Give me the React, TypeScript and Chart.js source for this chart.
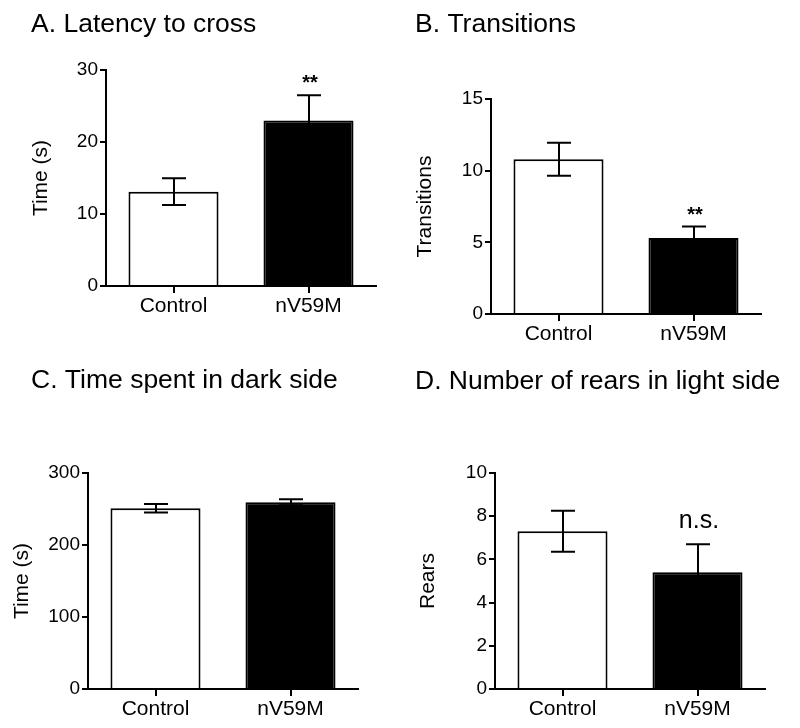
import React, { useEffect, useRef } from "react";
import { Chart, registerables } from "chart.js";

Chart.register(...registerables);

const FONT = "'Liberation Sans', Arial, Helvetica, sans-serif";

// ---- data ----
const groups = ["Control", "nV59M"];

const latencyMean = [13.1, 23.0];
const latencySem = [1.85, 3.5];
const latencySig = ["", "**"];
const latencyTicks = [0, 10, 20, 30];

const transitionsMean = [10.8, 5.3];
const transitionsSem = [1.15, 0.8];
const transitionsSig = ["", "**"];
const transitionsTicks = [0, 5, 10, 15];

const darkMean = [251, 259.5];
const darkSem = [6, 4.2];
const darkSig = ["", ""];
const darkTicks = [0, 100, 200, 300];

const rearsMean = [7.3, 5.4];
const rearsSem = [0.95, 1.3];
const rearsSig = ["", "n.s."];
const rearsTicks = [0, 2, 4, 6, 8, 10];

const barFills = ["#ffffff", "#000000"];

// ---- layout / style ----
const CW = 400;
const CH = 364;
const XH = 36;

type PanelCfg = {
  title: string;
  yLabel: string;
  mean: number[];
  sem: number[];
  sig: string[];
  ticks: number[];
  left: number;
  top: number;
  titleX: number;
  titleY: number;
  area: { l: number; r: number; t: number; b: number };
  yTitleX: number;
  sigFont: string;
  sigGap: number;
};

const panels: PanelCfg[] = [
  {
    title: "A. Latency to cross",
    yLabel: "Time (s)",
    mean: latencyMean,
    sem: latencySem,
    sig: latencySig,
    ticks: latencyTicks,
    left: 0,
    top: 0,
    titleX: 31,
    titleY: 32,
    area: { l: 106, r: 376, t: 70, b: 286 },
    yTitleX: 41,
    sigFont: `bold 20px ${FONT}`,
    sigGap: 6,
  },
  {
    title: "B. Transitions",
    yLabel: "Transitions",
    mean: transitionsMean,
    sem: transitionsSem,
    sig: transitionsSig,
    ticks: transitionsTicks,
    left: 400,
    top: 0,
    titleX: 15,
    titleY: 32,
    area: { l: 91, r: 361, t: 99, b: 314 },
    yTitleX: 25,
    sigFont: `bold 20px ${FONT}`,
    sigGap: 6,
  },
  {
    title: "C. Time spent in dark side",
    yLabel: "Time (s)",
    mean: darkMean,
    sem: darkSem,
    sig: darkSig,
    ticks: darkTicks,
    left: 0,
    top: 364,
    titleX: 31,
    titleY: 24,
    area: { l: 88, r: 358, t: 109, b: 325 },
    yTitleX: 22,
    sigFont: `bold 20px ${FONT}`,
    sigGap: 6,
  },
  {
    title: "D. Number of rears in light side",
    yLabel: "Rears",
    mean: rearsMean,
    sem: rearsSem,
    sig: rearsSig,
    ticks: rearsTicks,
    left: 400,
    top: 364,
    titleX: 15,
    titleY: 25,
    area: { l: 95, r: 365, t: 109, b: 325 },
    yTitleX: 28,
    sigFont: `25px ${FONT}`,
    sigGap: 16,
  },
];

function Panel({ cfg }: { cfg: PanelCfg }) {
  const ref = useRef<HTMLCanvasElement>(null);

  useEffect(() => {
    const canvas = ref.current;
    if (!canvas) return;

    const decorations = {
      id: "decorations",
      afterDatasetsDraw(chart: any) {
        const ctx = chart.ctx;
        const yScale = chart.scales.y;
        const meta = chart.getDatasetMeta(0);
        ctx.save();
        ctx.strokeStyle = "#000";
        ctx.lineWidth = 2;
        ctx.lineCap = "butt";
        meta.data.forEach((el: any, i: number) => {
          const m = cfg.mean[i];
          const e = cfg.sem[i];
          const x = Math.round(el.x);
          const yTop = yScale.getPixelForValue(m + e);
          const yBot = yScale.getPixelForValue(m - e);
          const cap = 12;
          ctx.beginPath();
          ctx.moveTo(x, yBot);
          ctx.lineTo(x, yTop);
          ctx.moveTo(x - cap, yTop);
          ctx.lineTo(x + cap, yTop);
          ctx.moveTo(x - cap, yBot);
          ctx.lineTo(x + cap, yBot);
          ctx.stroke();
          const s = cfg.sig[i];
          if (s) {
            ctx.fillStyle = "#000";
            ctx.font = cfg.sigFont;
            ctx.textAlign = "center";
            ctx.textBaseline = "alphabetic";
            ctx.fillText(s, x + 1, yTop - cfg.sigGap);
          }
        });
        ctx.restore();
      },
      afterDraw(chart: any) {
        const ctx = chart.ctx;
        ctx.save();
        ctx.fillStyle = "#000";
        ctx.font = `26.5px ${FONT}`;
        ctx.textAlign = "left";
        ctx.textBaseline = "alphabetic";
        ctx.fillText(cfg.title, cfg.titleX, cfg.titleY);
        ctx.restore();
      },
    };

    const padLeft = cfg.yTitleX - 12;
    const chart = new Chart(canvas, {
      type: "bar",
      data: {
        labels: groups,
        datasets: [
          {
            data: cfg.mean,
            backgroundColor: barFills,
            borderColor: "#000",
            borderWidth: 2,
            borderSkipped: "start",
            barPercentage: 0.667,
            categoryPercentage: 1.0,
          } as any,
        ],
      },
      options: {
        animation: false,
        responsive: false,
        devicePixelRatio: 1,
        events: [],
        layout: {
          padding: {
            left: padLeft,
            right: CW - cfg.area.r,
            top: cfg.area.t,
            bottom: CH - cfg.area.b - XH,
          },
        },
        plugins: {
          legend: { display: false },
          tooltip: { enabled: false },
          title: { display: false },
        },
        scales: {
          x: {
            type: "category",
            offset: true,
            grid: {
              offset: false,
              drawOnChartArea: false,
              drawTicks: true,
              tickLength: 7,
              color: "#000",
              lineWidth: 2,
            },
            border: { display: true, color: "#000", width: 2 },
            ticks: {
              color: "#000",
              font: { family: FONT, size: 21 },
              padding: 1,
              maxRotation: 0,
            },
            afterFit: (s: any) => {
              s.height = XH;
            },
          },
          y: {
            min: cfg.ticks[0],
            max: cfg.ticks[cfg.ticks.length - 1],
            grid: {
              drawOnChartArea: false,
              drawTicks: true,
              tickLength: 6,
              color: "#000",
              lineWidth: 2,
            },
            border: { display: true, color: "#000", width: 2 },
            ticks: {
              color: "#000",
              font: { family: FONT, size: 19 },
              padding: 2,
            },
            afterBuildTicks: (s: any) => {
              s.ticks = cfg.ticks.map((v) => ({ value: v }));
            },
            title: {
              display: true,
              text: cfg.yLabel,
              color: "#000",
              font: { family: FONT, size: 21 },
              padding: 0,
            },
            afterFit: (s: any) => {
              s.width = cfg.area.l - padLeft;
            },
          },
        },
      } as any,
      plugins: [decorations],
    });

    return () => {
      chart.destroy();
    };
  }, [cfg]);

  return (
    <canvas
      ref={ref}
      width={CW}
      height={CH}
      style={{ position: "absolute", left: cfg.left, top: cfg.top, display: "block" }}
    />
  );
}

export default function App() {
  return (
    <div
      style={{
        position: "absolute",
        left: 0,
        top: 0,
        width: 800,
        height: 728,
        background: "#fff",
        overflow: "hidden",
      }}
    >
      {panels.map((p, i) => (
        <Panel key={i} cfg={p} />
      ))}
    </div>
  );
}
